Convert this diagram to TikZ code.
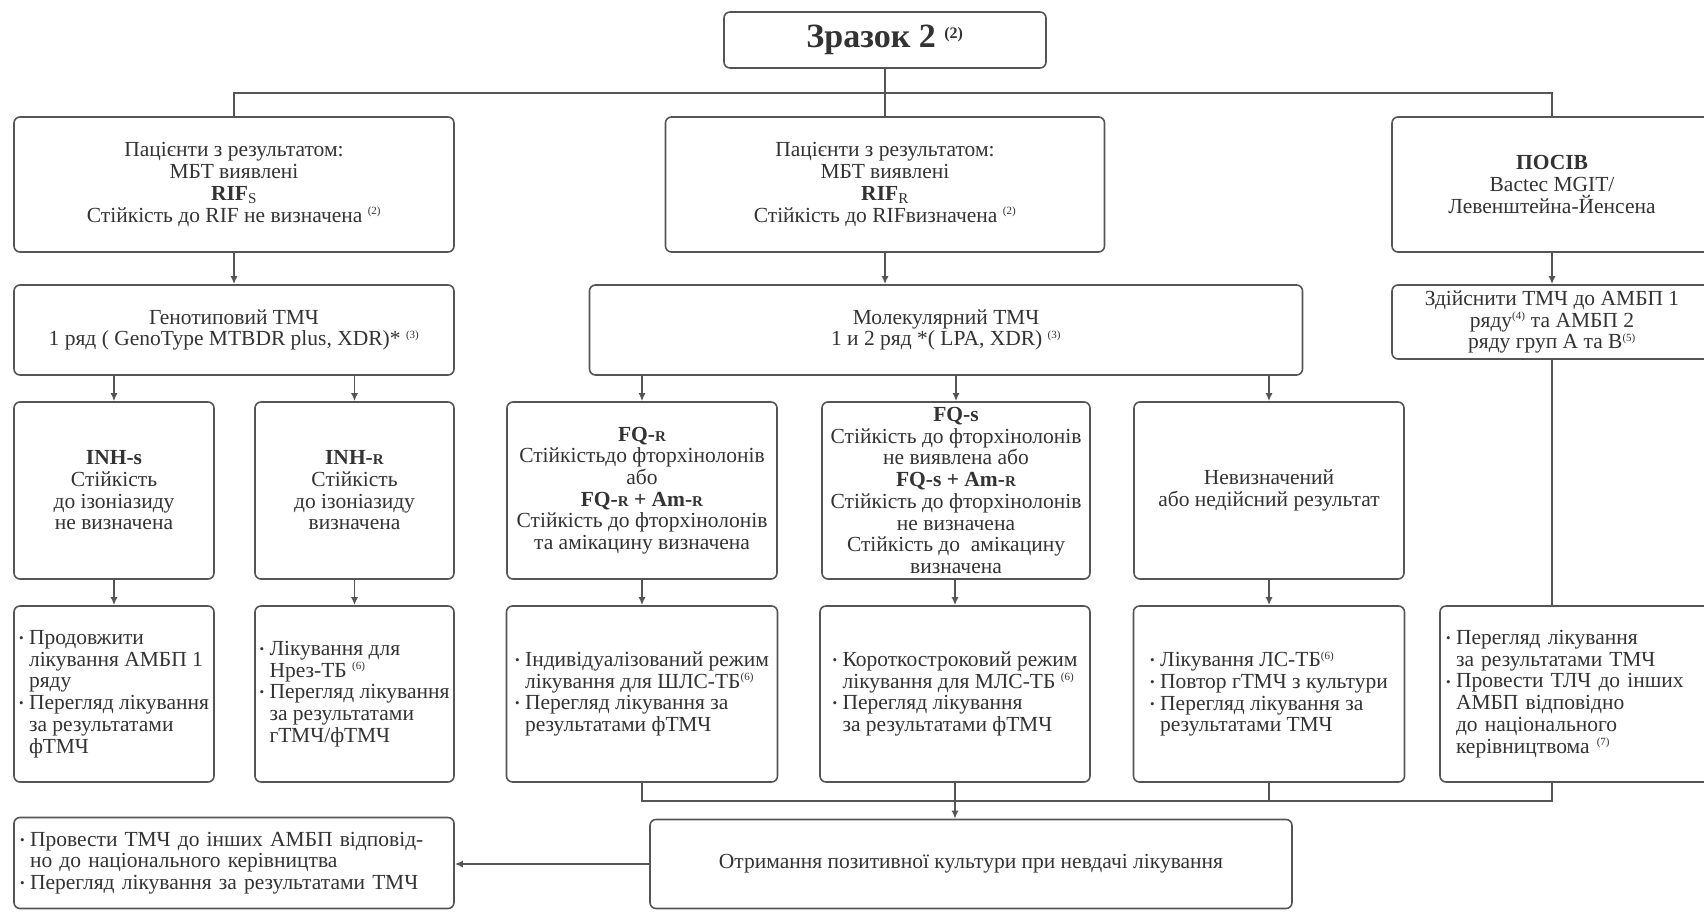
\documentclass[tikz,border=0pt]{standalone}
\usepackage{fontspec}
\setmainfont{Liberation Serif}
\usetikzlibrary{arrows.meta}
\definecolor{ink}{HTML}{333333}
\definecolor{rulegray}{HTML}{555555}
\newcommand{\fnote}[1]{\textsuperscript{\fontsize{11}{11}\selectfont(#1)}}
\newcommand{\bul}{\makebox[10pt][l]{\raisebox{0.2ex}{\fontsize{13}{13}\selectfont\textbullet}}}
\newcommand{\ind}{\hspace*{10pt}}
\newcommand{\smr}{{\fontsize{15}{15}\selectfont R}}

\begin{document}
\begin{tikzpicture} [
                x=1pt, y=-1pt,
                font=\fontsize{21.5}{21.7}\selectfont,
                box/.style={draw=rulegray, line width=1.6pt, rounded corners=6pt, text=ink, inner sep=2pt, align=center},
                lbox/.style={box, align=left},
                sz/.style 2 args={minimum width=#1pt, minimum height=#2pt},
                link/.style={draw=rulegray, line width=1.6pt},
                arr/.style={link, -{Latex[length=8pt,width=7pt]}},
            ]
            \useasboundingbox (0,0) rectangle (1704,911);
            \clip (0,0) rectangle (1704,911);
            \fill[white] (0,0) rectangle (1704,911);

            \node[box, sz={322}{56}, font=\fontsize{34}{36}\selectfont\bfseries] (title) at (885,40)
                {Зразок 2 \textsuperscript{\fontsize{16}{16}\selectfont(2)}};

            \node[box, sz={440}{135}] (pL) at (234,184.5)
                {Пацієнти з результатом:\\ МБТ виявлені\\ \textbf{RIF}\textsubscript{S}\\ Стійкість до RIF не визначена \fnote{2}};
            \node[box, sz={439}{135}] (pM) at (885,184.5)
                {Пацієнти з результатом:\\ МБТ виявлені\\ \textbf{RIF}\textsubscript{R}\\ Стійкість до RIFвизначена \fnote{2}};
            \node[box, sz={320}{135}] (pR) at (1552,184.5)
                {\textbf{ПОСІВ}\\ Bactec MGIT/\\ Левенштейна-Йенсена};

            \node[box, sz={440}{90}] (gen) at (234,330)
                {Генотиповий ТМЧ\\ 1 ряд ( GenoType MTBDR plus, XDR)* \fnote{3}};
            \node[box, sz={713}{90}] (mol) at (946,330)
                {Молекулярний ТМЧ\\ 1 и 2 ряд *( LPA, XDR) \fnote{3}};
            \node[box, sz={320}{74}] (zd) at (1552,322)
                {Здійснити ТМЧ до АМБП 1\\ ряду\fnote{4} та АМБП 2\\ ряду груп А та В\fnote{5}};

            \node[box, sz={200}{177}] (inhS) at (114,490.5)
                {\textbf{INH-s}\\ Стійкість\\ до ізоніазиду\\ не визначена};
            \node[box, sz={199}{177}] (inhR) at (354.5,490.5)
                {\textbf{INH-\smr}\\ Стійкість\\ до ізоніазиду\\ визначена};
            \node[box, sz={270}{177}] (fqR) at (642,490.5)
                {\textbf{FQ-\smr}\\ Стійкістьдо фторхінолонів\\ або\\ \textbf{FQ-\smr{} + Am-\smr}\\ Стійкість до фторхінолонів\\ та амікацину визначена};
            \node[box, sz={268}{177}, inner sep=1pt] (fqS) at (956,490.5)
                {\textbf{FQ-s}\\ Стійкість до фторхінолонів\\ не виявлена або\\ \textbf{FQ-s + Am-\smr}\\ Стійкість до фторхінолонів\\ не визначена\\ Стійкість до\ \ амікацину\\ визначена};
            \node[box, sz={270}{177}] (und) at (1269,490.5)
                {Невизначений\\ або недійсний результат};

            \node[lbox, sz={200}{176}] (t1) at (114,694)
                {\bul Продовжити\\ \ind лікування АМБП 1\\ \ind ряду\\ \bul Перегляд лікування\\ \ind за результатами\\ \ind фТМЧ};
            \node[lbox, sz={199}{176}] (t2) at (354.5,694)
                {\bul Лікування для\\ \ind Нрез-ТБ \fnote{6}\\ \bul Перегляд лікування\\ \ind за результатами\\ \ind гТМЧ/фТМЧ};
            \node[lbox, sz={271}{176}] (t3) at (642,694)
                {\bul Індивідуалізований режим\\ \ind лікування для ШЛС-ТБ\fnote{6}\\ \bul Перегляд лікування за\\ \ind результатами фТМЧ};
            \node[lbox, sz={270}{176}] (t4) at (955,694)
                {\bul Короткостроковий режим\\ \ind лікування для МЛС-ТБ \fnote{6}\\ \bul Перегляд лікування\\ \ind за результатами фТМЧ};
            \node[lbox, sz={271}{176}] (t5) at (1269,694)
                {\bul Лікування ЛС-ТБ\fnote{6}\\ \bul Повтор гТМЧ з культури\\ \bul Перегляд лікування за\\ \ind результатами ТМЧ};
            \node[lbox, sz={280}{176}, text width=268pt] (t6) at (1580,694)
                {\bul Перегляд лікування\\ \ind за результатами ТМЧ\\ \bul Провести ТЛЧ до інших\\ \ind АМБП відповідно\\ \ind до національного\\ \ind керівництвома \fnote{7}};

            \node[box, sz={642}{89}] (fin) at (971,864)
                {Отримання позитивної культури при невдачі лікування};
            \node[lbox, sz={440}{91}, text width=428pt] (bl) at (234,863)
                {\bul Провести ТМЧ до інших АМБП відповід-\\ \ind но до національного керівництва\\ \bul Перегляд лікування за результатами ТМЧ};

            \coordinate (bus) at (885,93);
            \coordinate (mj) at (958,801);

            \draw[link] (title) -- (bus);
            \draw[link] (pL.north) |- (bus) -| (pR.north);
            \draw[link] (bus) -- (pM);
            \draw[arr] (pM) -- (pM |- mol.north);
            \foreach \src/\dst in {
                    pL/gen, pR/zd, gen/inhS, gen/inhR, mol/fqR, mol/fqS, mol/und,
                    inhS/t1, inhR/t2, fqR/t3, fqS/t4, und/t5}
                \draw[arr] (\src.south -| \dst.north) -- (\dst.north);
            \draw[link] (zd) -- (zd |- t6.north);
            \draw[link] (t3.south) |- (zd |- mj) -- (zd |- t6.south);
            \draw[link] (t5.south) -- (t5.south |- mj);
            \draw[arr] (t4.south) -- (t4.south |- fin.north);
            \draw[arr] (fin.west) -- (fin.west -| bl.east);
        \end{tikzpicture}
\end{document}
